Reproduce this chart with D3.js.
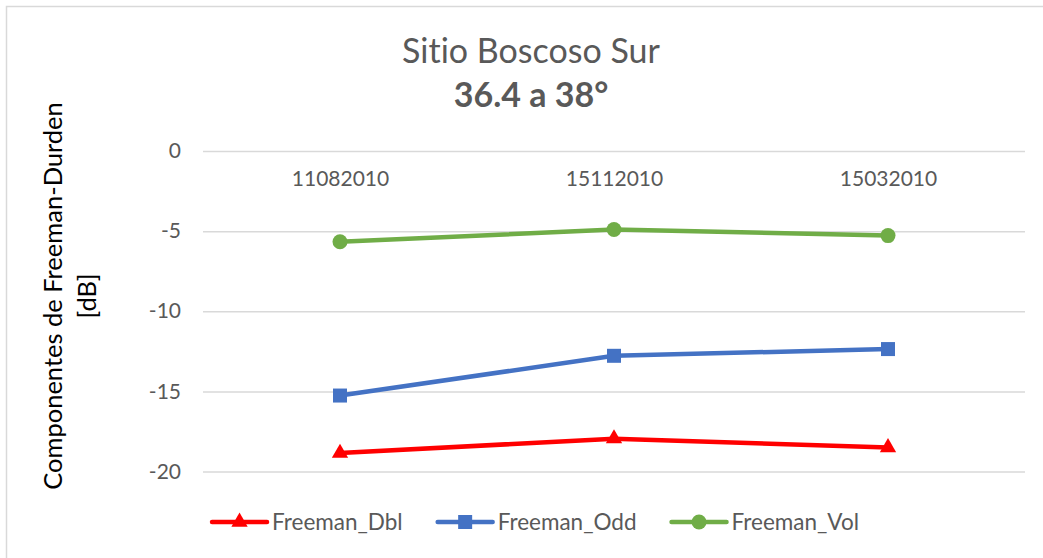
<!DOCTYPE html>
<html>
<head>
<meta charset="utf-8">
<script src="https://cdn.jsdelivr.net/npm/d3@7"></script>
<style>
  html, body { margin: 0; padding: 0; background: #fff; }
  svg { display: block; font-family: Lato, "Open Sans", sans-serif; font-variant-ligatures: none; }
</style>
</head>
<body>
<svg id="chart" width="1043" height="558"></svg>
<script>
// ---- Data ----
const titleLine1 = "Sitio Boscoso Sur";
const titleLine2 = "36.4 a 38°";
const yAxisTitle = ["Componentes de Freeman-Durden", "[dB]"];
const categories = ["11082010", "15112010", "15032010"];
const seriesNames = ["Freeman_Dbl", "Freeman_Odd", "Freeman_Vol"];
const freemanDbl = [-18.85, -17.95, -18.5];
const freemanOdd = [-15.26, -12.78, -12.36];
const freemanVol = [-5.66, -4.9, -5.28];
const yTicks = [0, -5, -10, -15, -20];

// ---- Styles ----
const colors = { Freeman_Dbl: "#FF0000", Freeman_Odd: "#4472C4", Freeman_Vol: "#70AD47" };
const shapes = { Freeman_Dbl: "triangle", Freeman_Odd: "square", Freeman_Vol: "circle" };
const textColor = "#595959";

const series = [
  { name: seriesNames[0], values: freemanDbl },
  { name: seriesNames[1], values: freemanOdd },
  { name: seriesNames[2], values: freemanVol }
];

const svg = d3.select("#chart");

// chart border (top and left visible)
svg.append("rect")
  .attr("x", 6.5).attr("y", 6.5)
  .attr("width", 1060).attr("height", 580)
  .attr("fill", "none").attr("stroke", "#d9d9d9").attr("stroke-width", 1.5);

const plot = { left: 203, right: 1025, top: 151, bottom: 471.5 };

const x = d3.scalePoint().domain(categories).range([plot.left, plot.right]).padding(0.5);
const y = d3.scaleLinear().domain([-20, 0]).range([plot.bottom, plot.top]);

// Title
svg.append("text")
  .attr("x", 531).attr("y", 63)
  .attr("text-anchor", "middle")
  .attr("font-size", 34).attr("fill", textColor)
  .text(titleLine1);
svg.append("text")
  .attr("x", 531).attr("y", 107)
  .attr("text-anchor", "middle")
  .attr("font-size", 34).attr("font-weight", "bold").attr("fill", textColor)
  .text(titleLine2);

// Gridlines + y axis
const yAxis = d3.axisLeft(y).tickValues(yTicks).tickSize(-(plot.right - plot.left)).tickPadding(22)
  .tickFormat(d => String(d));
const gy = svg.append("g").attr("transform", `translate(${plot.left},0)`).call(yAxis);
gy.select(".domain").remove();
gy.selectAll(".tick line").attr("stroke", "#d9d9d9").attr("stroke-width", 1.5);
gy.selectAll(".tick text")
  .attr("fill", textColor).attr("font-size", 21)
  .attr("font-family", "Lato, sans-serif");

// Category labels (axis at 0, labels below it)
const xAxis = d3.axisBottom(x).tickSize(0).tickPadding(20);
const gx = svg.append("g").attr("transform", `translate(0,${y(0)})`).call(xAxis);
gx.select(".domain").remove();
gx.selectAll(".tick text")
  .attr("fill", textColor).attr("font-size", 21)
  .attr("font-family", "Lato, sans-serif");

// Y axis title
const yt = svg.append("g").attr("transform", "translate(0,296) rotate(-90)");
yt.append("text").attr("x", 0).attr("y", 62)
  .attr("text-anchor", "middle").attr("font-size", 25.5).attr("fill", "#000")
  .text(yAxisTitle[0]);
yt.append("text").attr("x", 0).attr("y", 96)
  .attr("text-anchor", "middle").attr("font-size", 25.5).attr("fill", "#000")
  .text(yAxisTitle[1]);

// marker drawer
function drawMarker(g, shape, cx, cy, color) {
  if (shape === "circle") {
    g.append("circle").attr("cx", cx).attr("cy", cy).attr("r", 7.5).attr("fill", color);
  } else if (shape === "square") {
    g.append("rect").attr("x", cx - 7).attr("y", cy - 7).attr("width", 14).attr("height", 14).attr("fill", color);
  } else {
    const sym = d3.symbol().type(d3.symbolTriangle).size(115);
    g.append("path").attr("d", sym()).attr("transform", `translate(${cx},${cy})`).attr("fill", color);
  }
}

// Lines
const line = d3.line().x((d, i) => x(categories[i])).y(d => y(d));
const gLines = svg.append("g");
series.forEach(s => {
  gLines.append("path").datum(s.values)
    .attr("d", line).attr("fill", "none")
    .attr("stroke", colors[s.name]).attr("stroke-width", 4.5)
    .attr("stroke-linejoin", "round").attr("stroke-linecap", "round");
  s.values.forEach((v, i) => drawMarker(gLines, shapes[s.name], x(categories[i]), y(v), colors[s.name]));
});

// Legend
const legendY = 522;
const lg = svg.append("g");
let cursor = 0;
const gap = 35;
series.forEach((s, i) => {
  const g = lg.append("g");
  g.append("line").attr("x1", 0).attr("x2", 55).attr("y1", legendY).attr("y2", legendY)
    .attr("stroke", colors[s.name]).attr("stroke-width", 4.5).attr("stroke-linecap", "round");
  drawMarker(g, shapes[s.name], 27.5, legendY, colors[s.name]);
  const t = g.append("text").attr("x", 60).attr("y", legendY).attr("dy", "0.35em")
    .attr("font-size", 22.5).attr("fill", textColor).text(s.name);
  const w = 60 + t.node().getComputedTextLength();
  g.attr("transform", `translate(${cursor},0)`);
  cursor += w + gap;
});
const totalW = cursor - gap;
lg.attr("transform", `translate(${535.5 - totalW / 2},0)`);
</script>
</body>
</html>
